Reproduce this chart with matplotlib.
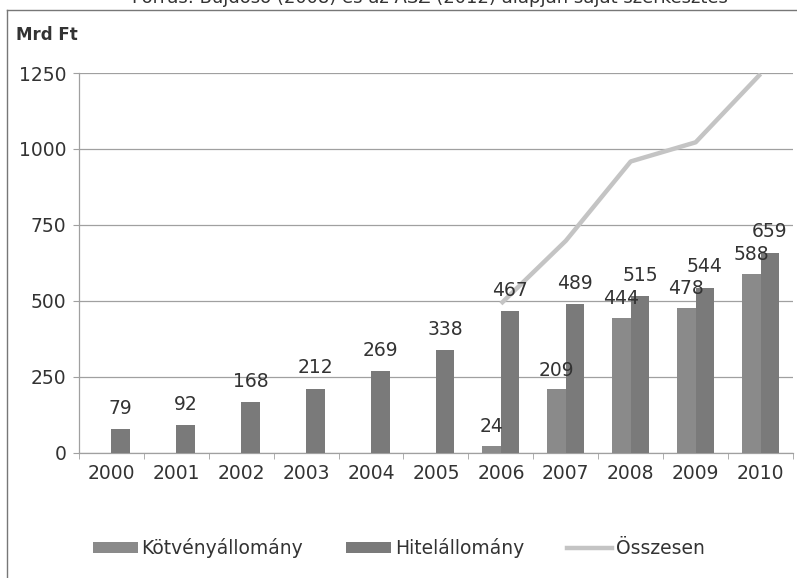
import matplotlib
matplotlib.use("Agg")
import matplotlib.pyplot as plt
from matplotlib.lines import Line2D
from matplotlib.patches import Patch
import numpy as np

years = ['2000', '2001', '2002', '2003', '2004', '2005',
         '2006', '2007', '2008', '2009', '2010']
kotveny = [0, 0, 0, 0, 0, 0, 24, 209, 444, 478, 588]
hitel = [79, 92, 168, 212, 269, 338, 467, 489, 515, 544, 659]
osszesen_years = ['2006', '2007', '2008', '2009', '2010']
osszesen = [491, 698, 959, 1022, 1247]

series_names = ['Kötvényállomány', 'Hitelállomány', 'Összesen']

TXT = '#333333'
C_KOT = '#8a8a8a'
C_HIT = '#7a7a7a'
C_SUM = '#c4c4c4'
GRID = '#a0a0a0'

plt.rcParams['font.family'] = ['DejaVu Sans']

fig = plt.figure(figsize=(7.97, 5.78), dpi=100)
ax = fig.add_axes([0.099, 0.2163, 0.896, 0.6574])

x = np.arange(len(years))
w = 0.285

ax.bar(x - w / 2, kotveny, w, color=C_KOT, zorder=3)
ax.bar(x + w / 2, hitel, w, color=C_HIT, zorder=3)

sx = [years.index(y) for y in osszesen_years]
ax.plot(sx, osszesen, color=C_SUM, linewidth=3.2, zorder=4,
        solid_capstyle='butt')

# data labels (skip zero bonds)
for xi, v in zip(x, kotveny):
    if v > 0:
        ax.annotate(str(v), (xi - w / 2, v), xytext=(0, 10),
                    textcoords='offset points', ha='center', va='baseline',
                    fontsize=13.5, color=TXT, zorder=5)
for xi, v in zip(x, hitel):
    ax.annotate(str(v), (xi + w / 2, v), xytext=(0, 11),
                textcoords='offset points', ha='center', va='baseline',
                fontsize=13.5, color=TXT, zorder=5)

ax.set_xlim(-0.5, len(years) - 0.5)
ax.set_ylim(0, 1250)
ax.set_yticks([0, 250, 500, 750, 1000, 1250])
ax.set_xticks(x)
ax.set_xticklabels(years)
ax.set_xticks(np.arange(len(years) + 1) - 0.5, minor=True)

ax.grid(axis='y', color=GRID, linewidth=0.9, zorder=0)
ax.tick_params(axis='x', which='major', length=0, pad=8, labelsize=13.5,
               colors=TXT)
ax.tick_params(axis='x', which='minor', length=4, color=GRID)
ax.tick_params(axis='y', length=4, color=GRID, labelsize=13.5, colors=TXT,
               pad=5)

for s in ['top', 'right']:
    ax.spines[s].set_visible(False)
for s in ['left', 'bottom']:
    ax.spines[s].set_color(GRID)
    ax.spines[s].set_linewidth(0.9)

handles = [Patch(facecolor=C_KOT), Patch(facecolor=C_HIT),
           Line2D([0], [0], color=C_SUM, linewidth=3.2)]
fig.legend(handles, series_names, loc='center left', ncol=3,
           bbox_to_anchor=(0.095, 0.052), frameon=False, fontsize=13.5,
           labelcolor=TXT, handlelength=2.4, handleheight=0.55,
           handletextpad=0.2, columnspacing=2.3)

fig.text(0.02, 0.94, 'Mrd Ft', fontsize=12, fontweight='bold', color=TXT,
         va='center')

# source line, cut off at the top edge as in the scan
fig.text(0.54, 0.988, 'Forrás: Bujdosó (2008) és az ÁSZ (2012) alapján saját szerkesztés',
         fontsize=13, color=TXT, ha='center', va='bottom')

# outer frame (left and top edges)
fig.add_artist(Line2D([0.009, 0.009], [0.0, 0.983], color='#777777',
                      linewidth=1.0, transform=fig.transFigure))
fig.add_artist(Line2D([0.009, 1.0], [0.983, 0.983], color='#777777',
                      linewidth=1.0, transform=fig.transFigure))

fig.savefig('out.png', dpi=100)
